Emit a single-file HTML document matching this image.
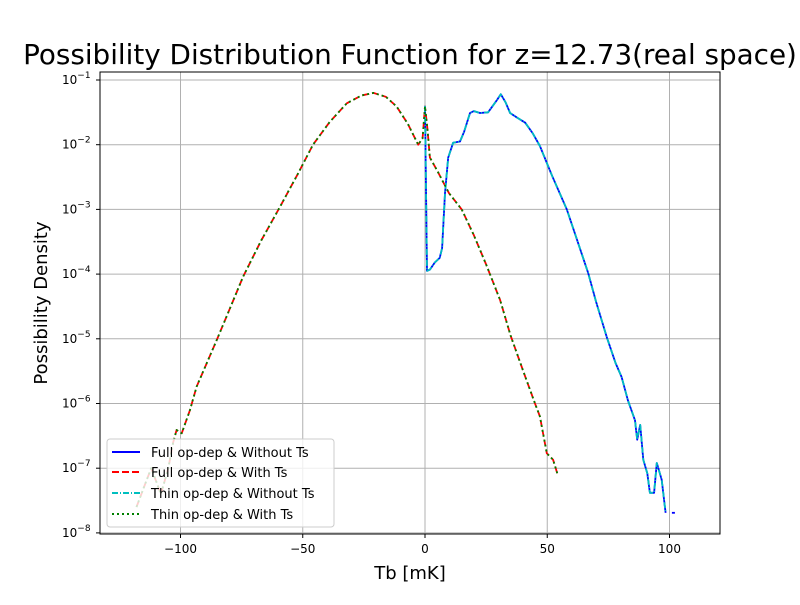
<!DOCTYPE html>
<html><head><meta charset="utf-8"><style>
body{margin:0;background:#fff;font-family:"Liberation Sans","DejaVu Sans",sans-serif}
</style></head><body>
<svg width="800" height="600" xmlns="http://www.w3.org/2000/svg" font-family="DejaVu Sans, Liberation Sans, sans-serif">
<text x="410" y="64" font-size="27.8" text-anchor="middle">Possibility Distribution Function for z=12.73(real space)</text>
<g id="grid"></g>
<g id="series"></g>
<rect x="100" y="72" width="620" height="462" fill="none" stroke="#000" stroke-width="1"/>
<g id="ticks" font-size="12"></g>
<text x="410" y="579" font-size="18" text-anchor="middle">Tb [mK]</text>
<text transform="translate(47,303) rotate(-90)" font-size="18" text-anchor="middle">Possibility Density</text>
<g font-size="13">
<rect x="107" y="439" width="227" height="88" rx="3" fill="#fff" fill-opacity="0.8" stroke="#ccc"/>
<line x1="112" y1="452" x2="140" y2="452" stroke="#0000ff" stroke-width="2"/><text x="151" y="457">Full op-dep &amp; Without Ts</text>
<line x1="112" y1="472" x2="140" y2="472" stroke="#ff0000" stroke-width="2" stroke-dasharray="7,3"/><text x="151" y="477">Full op-dep &amp; With Ts</text>
<line x1="112" y1="493" x2="140" y2="493" stroke="#00bfbf" stroke-width="2" stroke-dasharray="6,2,1,2"/><text x="151" y="498">Thin op-dep &amp; Without Ts</text>
<line x1="112" y1="514" x2="140" y2="514" stroke="#008000" stroke-width="2" stroke-dasharray="2,3"/><text x="151" y="519">Thin op-dep &amp; With Ts</text>
</g>
</svg>
<script>
const xTicks=[-100,-50,0,50,100];
const yTickExps=[-8,-7,-6,-5,-4,-3,-2,-1];
const withTsX=[-118,-115,-112,-110,-108,-105,-103,-101.6,-99.5,-96.1,-93.4,-85.2,-80,-74.4,-67,-59.3,-52,-45.8,-39,-32,-26,-21.1,-16,-11.6,-7,-2.8,-1,0,1,2,5,9.8,15,20,25,30.7,35,40,45,47,49.8,52.4,54.1];
const withTsLog=[-7.6,-7.3,-7.0,-7.2,-7.4,-7.0,-6.6,-6.41,-6.46,-6.1,-5.74,-5.02,-4.55,-4.04,-3.48,-2.96,-2.45,-2.0,-1.65,-1.36,-1.24,-1.2,-1.26,-1.41,-1.68,-2.0,-1.9,-1.41,-1.75,-2.2,-2.4,-2.75,-3.0,-3.4,-3.85,-4.4,-4.95,-5.48,-6.0,-6.2,-6.77,-6.87,-7.08];
const withoutTsX=[0,0.8,2,4,6,7,8.2,9.5,11.5,14.3,16,18.4,20,22.5,25.8,29.4,31,33,34.8,37.6,41,44,47,52,58,62,66.7,70,74.3,78,80.4,83,85.9,86.8,88,89.3,90.9,92,93.7,94.8,96.8,98.4];
const withoutTsLog=[-1.4,-3.95,-3.93,-3.82,-3.75,-3.6,-2.75,-2.2,-1.97,-1.95,-1.8,-1.51,-1.48,-1.51,-1.5,-1.31,-1.22,-1.35,-1.51,-1.58,-1.66,-1.82,-2.02,-2.48,-3.0,-3.45,-3.98,-4.43,-4.97,-5.38,-5.59,-5.95,-6.26,-6.56,-6.33,-6.87,-7.08,-7.38,-7.38,-6.92,-7.18,-7.69];
const tailX=[101,103];
const tailLog=[-7.69,-7.69];
const X=v=>425+2.445*v, Y=l=>80+64.7*(-1-l);
const NS="http://www.w3.org/2000/svg";
const grid=document.getElementById('grid'),ticks=document.getElementById('ticks'),ser=document.getElementById('series');
function mk(tag,attrs,parent){const e=document.createElementNS(NS,tag);for(const k in attrs)e.setAttribute(k,attrs[k]);parent.appendChild(e);return e;}
xTicks.forEach(t=>{const x=X(t);
const g=mk('line',{x1:x,x2:x,y1:72,y2:534,stroke:'#b0b0b0','stroke-width':1},grid);


mk('line',{x1:x,x2:x,y1:534,y2:538,stroke:'#000'},ticks);
const tx=mk('text',{x:x,y:553,'text-anchor':'middle'},ticks);tx.textContent=String(t).replace('-','\u2212');

});
yTickExps.forEach(e=>{const y=Y(e);
const g=mk('line',{x1:100,x2:720,y1:y,y2:y,stroke:'#b0b0b0','stroke-width':1},grid);


mk('line',{x1:96,x2:100,y1:y,y2:y,stroke:'#000'},ticks);
const tx=mk('text',{x:62,y:y+4},ticks);tx.innerHTML='10<tspan dy="-6" font-size="9">\u2212'+(-e)+'</tspan>';

});
function line(xs,ls,stroke,dash,name){const d=xs.map((v,i)=>(i?'L':'M')+X(v).toFixed(1)+','+Y(ls[i]).toFixed(1)).join('');
const p=mk('path',{d:d,fill:'none',stroke:stroke,'stroke-width':1.8,'stroke-dasharray':dash,'stroke-linejoin':'round'},ser);

}
line(withoutTsX,withoutTsLog,'#0000ff','none','full-without-ts-line');
line(withTsX,withTsLog,'#ff0000','7,3','full-with-ts-line');
line(withoutTsX,withoutTsLog,'#00bfbf','6,2,1,2','thin-without-ts-line');
line(withTsX,withTsLog,'#008000','2,3','thin-with-ts-line');
line(tailX,tailLog,'#0000ff','3,2','tail-segment');
</script>
</body></html>
